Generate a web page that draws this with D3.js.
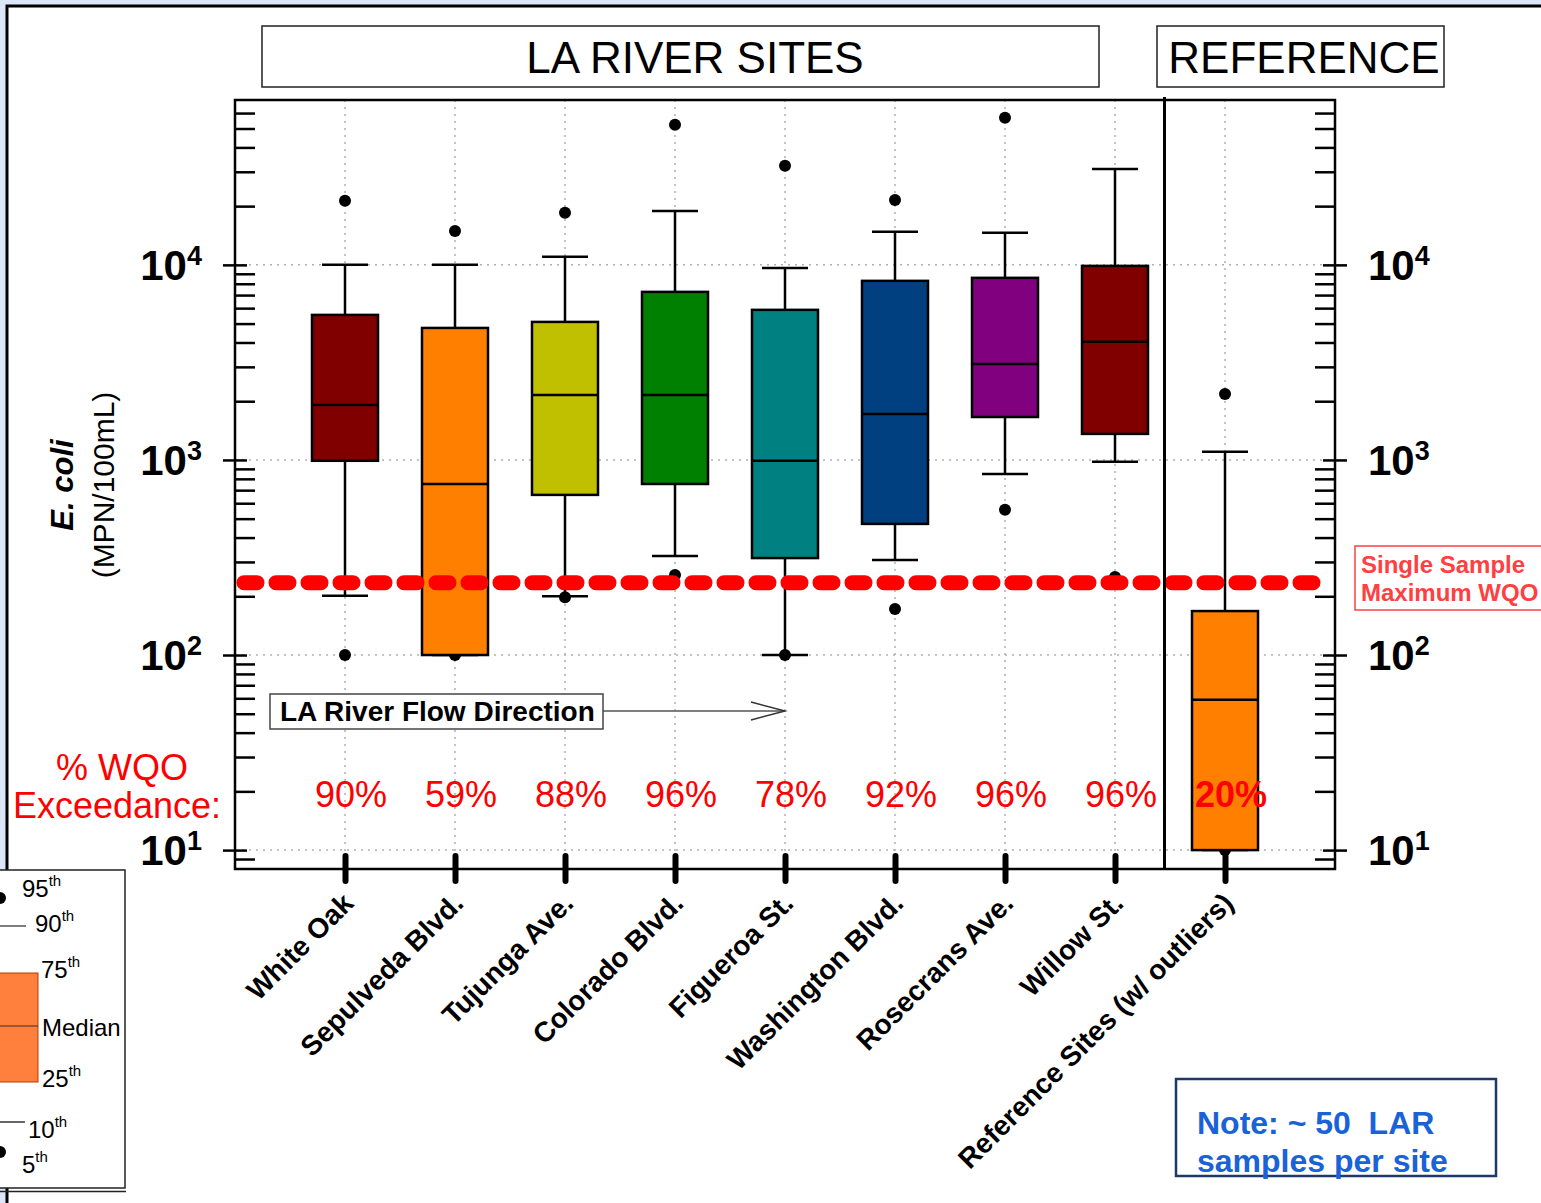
<!DOCTYPE html>
<html>
<head>
<meta charset="utf-8">
<script src="https://cdn.jsdelivr.net/npm/d3@7"></script>
<style>
  html, body { margin: 0; padding: 0; background: #dbe7f8; }
  svg { display: block; font-family: "Liberation Sans", Arial, sans-serif; }
</style>
</head>
<body>
<svg id="chart" width="1541" height="1203"></svg>
<script>
// E. coli percentiles per site (MPN/100mL)
var sites = ["White Oak", "Sepulveda Blvd.", "Tujunga Ave.", "Colorado Blvd.", "Figueroa St.",
             "Washington Blvd.", "Rosecrans Ave.", "Willow St.", "Reference Sites (w/ outliers)"];
var p5     = [100,   100,   198,   257,   100,   172,   555,   251,   10];
var p10    = [201,   100,   200,   322,   100,   307,   848,   980,   10];
var p25    = [990,   100,   662,   753,   314,   470,   1660,  1360,  10];
var median = [1910,  753,   2150,  2150,  990,   1720,  3100,  4030,  59];
var p75    = [5540,  4750,  5100,  7270,  5880,  8280,  8580,  9880,  168];
var p90    = [10000, 10000, 11000, 18900, 9650,  14800, 14600, 31000, 1100];
var p95    = [21300, 14900, 18500, 52200, 32200, 21500, 56800, null,  2180];
var boxColors = ["#800000", "#ff8000", "#c0c000", "#008000", "#008080",
                 "#004080", "#800080", "#800000", "#ff8000"];
var exceedance = ["90%", "59%", "88%", "96%", "78%", "92%", "96%", "96%", "20%"];
var wqo = 235;
var majorTicks = [10, 100, 1000, 10000];
var exponents = ["1", "2", "3", "4"];

var svg = d3.select("#chart");
var W = 1541, H = 1203;
var plotLeft = 235, plotRight = 1335, plotTop = 100, plotBottom = 869;

// white panel
svg.append("rect").attr("x", 7).attr("y", 6).attr("width", W).attr("height", H)
    .attr("fill", "#fff").attr("stroke", "#000").attr("stroke-width", 3);

var x = d3.scalePoint().domain(sites).range([plotLeft, plotRight]).padding(1);
var y = d3.scaleLog().domain([8, 70000]).range([plotBottom, plotTop]);

var minorTicks = [];
for (var k = 0; k <= 4; k++)
    for (var m = 2; m <= 9; m++) {
        var v = m * Math.pow(10, k);
        if (v > 8 && v < 70000) minorTicks.push(v);
    }

// grid
var grid = svg.append("g").attr("stroke", "#b0b0b0").attr("stroke-width", 1.5).attr("stroke-dasharray", "2,5");
grid.selectAll(".gh").data(majorTicks).enter().append("line")
    .attr("x1", plotLeft).attr("x2", plotRight).attr("y1", d => y(d)).attr("y2", d => y(d));
grid.selectAll(".gv").data(sites).enter().append("line")
    .attr("x1", d => x(d)).attr("x2", d => x(d)).attr("y1", plotTop).attr("y2", plotBottom);

// whiskers
var capW = 23, boxW = 33;
var whisk = svg.append("g").attr("stroke", "#000").attr("stroke-width", 2.5);
sites.forEach(function(s, i) {
    var cx = x(s);
    whisk.append("line").attr("x1", cx).attr("x2", cx).attr("y1", y(p10[i])).attr("y2", y(p90[i]));
    whisk.append("line").attr("x1", cx - capW).attr("x2", cx + capW).attr("y1", y(p10[i])).attr("y2", y(p10[i]));
    whisk.append("line").attr("x1", cx - capW).attr("x2", cx + capW).attr("y1", y(p90[i])).attr("y2", y(p90[i]));
});

// outlier dots (5th / 95th)
var dots = svg.append("g").attr("fill", "#000");
sites.forEach(function(s, i) {
    [p5[i], p95[i]].forEach(function(v) {
        if (v == null) return;
        dots.append("circle").attr("cx", x(s)).attr("cy", y(v)).attr("r", 6);
    });
});

// boxes
var boxes = svg.append("g");
boxes.selectAll("rect").data(sites).enter().append("rect")
    .attr("x", d => x(d) - boxW)
    .attr("width", boxW * 2)
    .attr("y", (d, i) => y(p75[i]))
    .attr("height", (d, i) => y(p25[i]) - y(p75[i]))
    .attr("fill", (d, i) => boxColors[i])
    .attr("stroke", "#000").attr("stroke-width", 2.5);
boxes.selectAll("line").data(sites).enter().append("line")
    .attr("x1", d => x(d) - boxW).attr("x2", d => x(d) + boxW)
    .attr("y1", (d, i) => y(median[i])).attr("y2", (d, i) => y(median[i]))
    .attr("stroke", "#000").attr("stroke-width", 2.5);

// WQO dashed line, drawn over the boxes
svg.append("line").attr("x1", plotLeft + 9).attr("x2", plotRight - 14)
    .attr("y1", y(wqo)).attr("y2", y(wqo))
    .attr("stroke", "#ff0000").attr("stroke-width", 15)
    .attr("stroke-linecap", "round").attr("stroke-dasharray", "13,19");

// axes: minor ticks inward, major ticks crossing
function styleAxis(g) { g.select(".domain").remove(); g.selectAll(".tick line").attr("stroke", "#000").attr("stroke-width", 2.5); }
svg.append("g").attr("transform", "translate(" + plotLeft + ",0)")
    .call(d3.axisLeft(y).tickValues(minorTicks).tickSize(-20).tickFormat(""))
    .call(styleAxis);
svg.append("g").attr("transform", "translate(" + plotLeft + ",0)")
    .call(d3.axisLeft(y).tickValues(majorTicks).tickSize(12).tickFormat(""))
    .call(styleAxis)
    .call(g => g.selectAll(".tick line").attr("x2", -12).attr("x1", 12));
svg.append("g").attr("transform", "translate(" + plotRight + ",0)")
    .call(d3.axisRight(y).tickValues(minorTicks).tickSize(-20).tickFormat(""))
    .call(styleAxis);
svg.append("g").attr("transform", "translate(" + plotRight + ",0)")
    .call(d3.axisRight(y).tickValues(majorTicks).tickSize(12).tickFormat(""))
    .call(styleAxis)
    .call(g => g.selectAll(".tick line").attr("x1", -12).attr("x2", 12));

// bottom axis ticks
svg.append("g").attr("transform", "translate(0," + plotBottom + ")")
    .call(d3.axisBottom(x).tickSize(0).tickFormat(""))
    .call(g => g.select(".domain").remove())
    .call(g => g.selectAll(".tick line").attr("y1", -13).attr("y2", 12)
        .attr("stroke", "#000").attr("stroke-width", 6).attr("stroke-linecap", "round"));

// frame
svg.append("rect").attr("x", plotLeft).attr("y", plotTop).attr("width", plotRight - plotLeft).attr("height", plotBottom - plotTop)
    .attr("fill", "none").attr("stroke", "#000").attr("stroke-width", 2.5);
var sepX = x(sites[7]) + x.step() * 0.45;
svg.append("line").attr("x1", sepX).attr("x2", sepX).attr("y1", plotTop - 3).attr("y2", plotBottom)
    .attr("stroke", "#000").attr("stroke-width", 3);

// power-of-ten labels
function powLabels(xPos, anchor) {
    svg.append("g").selectAll("text").data(majorTicks).enter().append("text")
        .attr("x", xPos).attr("y", d => y(d) + 15).attr("text-anchor", anchor)
        .attr("font-weight", "bold").attr("font-size", 42).attr("fill", "#000")
        .each(function(d, i) {
            var t = d3.select(this);
            t.append("tspan").text("10");
            t.append("tspan").attr("dy", -15).attr("font-size", 27).text(exponents[i]);
        });
}
powLabels(202, "end");
powLabels(1368, "start");

// site labels
svg.append("g").selectAll("text").data(sites).enter().append("text")
    .attr("transform", d => "translate(" + (x(d) + 10) + ",905) rotate(-45)")
    .attr("text-anchor", "end").attr("font-weight", "bold").attr("font-size", 28)
    .text(d => d);

// exceedance percentages
svg.append("g").selectAll("text").data(sites).enter().append("text")
    .attr("x", d => x(d) + 6).attr("y", 807).attr("text-anchor", "middle")
    .attr("font-size", 36).attr("fill", "#ff0000")
    .attr("font-weight", (d, i) => i === sites.length - 1 ? "bold" : "normal")
    .text((d, i) => exceedance[i]);
svg.append("text").attr("x", 122).attr("y", 780).attr("text-anchor", "middle")
    .attr("font-size", 36).attr("fill", "#ff0000").text("% WQO");
svg.append("text").attr("x", 117).attr("y", 818).attr("text-anchor", "middle")
    .attr("font-size", 36).attr("fill", "#ff0000").text("Exceedance:");

// y axis title
svg.append("text").attr("transform", "translate(73,485) rotate(-90)").attr("text-anchor", "middle")
    .attr("font-size", 31).attr("font-weight", "bold").attr("font-style", "italic").text("E. coli");
svg.append("text").attr("transform", "translate(114,485) rotate(-90)").attr("text-anchor", "middle")
    .attr("font-size", 30).text("(MPN/100mL)");

// header boxes
svg.append("rect").attr("x", 262).attr("y", 26).attr("width", 837).attr("height", 61)
    .attr("fill", "#fff").attr("stroke", "#222").attr("stroke-width", 1.5);
svg.append("text").attr("x", 695).attr("y", 73).attr("text-anchor", "middle").attr("font-size", 44).text("LA RIVER SITES");
svg.append("rect").attr("x", 1157).attr("y", 26).attr("width", 287).attr("height", 61)
    .attr("fill", "#fff").attr("stroke", "#222").attr("stroke-width", 1.5);
svg.append("text").attr("x", 1304).attr("y", 73).attr("text-anchor", "middle").attr("font-size", 44).text("REFERENCE");

// flow direction
svg.append("line").attr("x1", 603).attr("x2", 785).attr("y1", 711).attr("y2", 711).attr("stroke", "#555").attr("stroke-width", 1.5);
svg.append("path").attr("d", "M751,702 L785,711 L751,720").attr("fill", "none").attr("stroke", "#333").attr("stroke-width", 1.5);
svg.append("rect").attr("x", 270).attr("y", 694).attr("width", 333).attr("height", 35)
    .attr("fill", "#fff").attr("stroke", "#444").attr("stroke-width", 1.5);
svg.append("text").attr("x", 280).attr("y", 721).attr("font-size", 28).attr("font-weight", "bold").text("LA River Flow Direction");

// single sample WQO box
svg.append("rect").attr("x", 1355).attr("y", 546).attr("width", 200).attr("height", 64)
    .attr("fill", "#fff").attr("stroke", "#ff4040").attr("stroke-width", 1.5);
svg.append("text").attr("x", 1361).attr("y", 573).attr("font-size", 24).attr("font-weight", "bold").attr("fill", "#ff4040").text("Single Sample");
svg.append("text").attr("x", 1361).attr("y", 601).attr("font-size", 24).attr("font-weight", "bold").attr("fill", "#ff4040").text("Maximum WQO");

// note box
svg.append("rect").attr("x", 1176).attr("y", 1079).attr("width", 320).attr("height", 97)
    .attr("fill", "#fff").attr("stroke", "#1b3a6b").attr("stroke-width", 2.5);
svg.append("text").attr("x", 1197).attr("y", 1134).attr("font-size", 32).attr("font-weight", "bold").attr("fill", "#1a62d8")
    .style("white-space", "pre").text("Note: ~ 50  LAR");
svg.append("text").attr("x", 1197).attr("y", 1172).attr("font-size", 32).attr("font-weight", "bold").attr("fill", "#1a62d8").text("samples per site");

// percentile legend
var lg = svg.append("g");
lg.append("rect").attr("x", -10).attr("y", 870).attr("width", 135).attr("height", 318)
    .attr("fill", "#fff").attr("stroke", "#222").attr("stroke-width", 1.5);
lg.append("line").attr("x1", -10).attr("x2", 126).attr("y1", 1191.5).attr("y2", 1191.5).attr("stroke", "#222").attr("stroke-width", 1.5);
lg.append("circle").attr("cx", 0).attr("cy", 898).attr("r", 6).attr("fill", "#000");
lg.append("line").attr("x1", -5).attr("x2", 26).attr("y1", 926).attr("y2", 926).attr("stroke", "#555").attr("stroke-width", 1.5);
lg.append("rect").attr("x", -20).attr("y", 973).attr("width", 58).attr("height", 109)
    .attr("fill", "#ff7f3c").attr("stroke", "#b04000").attr("stroke-width", 1);
lg.append("line").attr("x1", -20).attr("x2", 38).attr("y1", 1026).attr("y2", 1026).attr("stroke", "#333").attr("stroke-width", 1.2);
lg.append("line").attr("x1", -5).attr("x2", 25).attr("y1", 1122).attr("y2", 1122).attr("stroke", "#333").attr("stroke-width", 1.5);
lg.append("circle").attr("cx", 0).attr("cy", 1152).attr("r", 6).attr("fill", "#000");
var legendLabels = [["95", 22, 897], ["90", 35, 932], ["75", 41, 978], ["25", 42, 1087], ["10", 28, 1138], ["5", 22, 1173]];
legendLabels.forEach(function(l) {
    var t = lg.append("text").attr("x", l[1]).attr("y", l[2]).attr("font-size", 24);
    t.append("tspan").text(l[0]);
    t.append("tspan").attr("dy", -11).attr("font-size", 15).text("th");
});
lg.append("text").attr("x", 42).attr("y", 1036).attr("font-size", 24).text("Median");
</script>
</body>
</html>
